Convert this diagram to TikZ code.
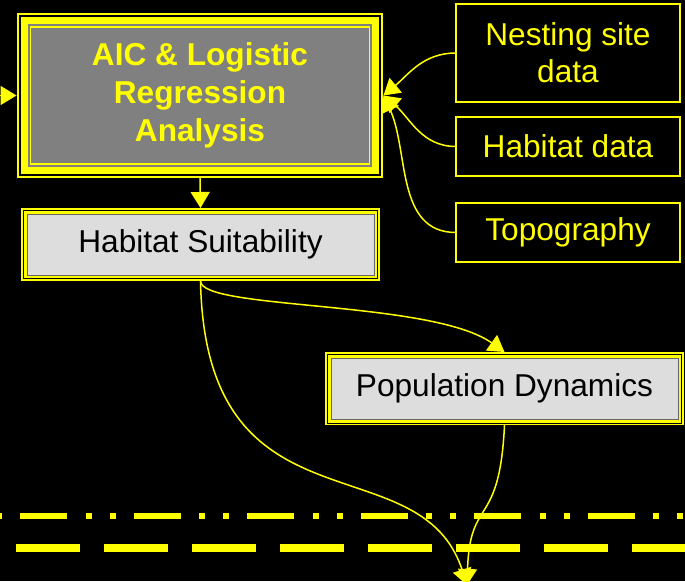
\documentclass[tikz,border=0pt]{standalone}
\usepackage{fontspec}
\setmainfont{Liberation Sans}
\usetikzlibrary{arrows.meta}
\definecolor{ppyellow}{HTML}{FFFF00}
\definecolor{ppgray}{HTML}{808080}
\definecolor{pplight}{HTML}{DDDDDD}
\tikzset{bigbox/.style={rectangle, inner sep=0pt, align=center, minimum width=6.78cm, minimum height=2.74cm, outer sep=0.28cm,
    preaction={draw=ppyellow, line width=0.56cm},
    preaction={draw=black, line width=0.48cm},
    preaction={draw=ppyellow, line width=0.4cm},
    preaction={draw=ppgray, line width=0.12cm},
    fill=ppgray, draw=ppyellow, line width=0.03cm, text=ppyellow,
    font=\bfseries\fontsize{18}{21.8}\selectfont}}
\tikzset{midbox/.style={rectangle, inner sep=0pt, minimum width=6.94cm, minimum height=1.22cm, outer sep=0.12cm,
    preaction={draw=ppyellow, line width=0.24cm},
    preaction={draw=black, line width=0.18cm},
    preaction={draw=ppyellow, line width=0.14cm},
    fill=pplight, draw=black!60, line width=0.015cm, text=black,
    font=\fontsize{18}{21}\selectfont}}
\tikzset{databox/.style={rectangle, inner sep=0pt, align=center, minimum width=4.48cm, outer sep=0pt,
    fill=black, draw=ppyellow, line width=0.045cm, text=ppyellow,
    font=\fontsize{18}{21}\selectfont}}
\tikzset{link/.style={draw=ppyellow, line width=0.03cm, -{Triangle[length=0.32cm,width=0.38cm]}}}

\begin{document}
\begin{tikzpicture}[x=0.02cm, y=0.02cm]
	\useasboundingbox (0,0) rectangle (685,-581);
	\fill[black] (0,0) rectangle (685,-581);
	\clip (0,0) rectangle (685,-581);

	% boxes
	\node[bigbox] (aic) at (200,-95.5) {AIC \& Logistic\\Regression\\Analysis};
	\node[midbox] (hs) at (200.5,-244.5) {Habitat Suitability};
	\node[midbox] (pd) at (504.5,-388.5) {Population Dynamics};
	\node[databox, minimum height=1.96cm] (nest) at (568,-53) {Nesting site\\data};
	\node[databox, minimum height=1.18cm] (hab) at (568,-146.5) {Habitat data};
	\node[databox, minimum height=1.18cm] (topo) at (568,-232.5) {Topography};

	\coordinate (src) at (-20,-95.5);
	\coordinate (sink) at (467,-585);

	% separator lines
	\draw[ppyellow, line width=0.12cm, dash pattern=on 0.94cm off 0.37cm on 0.12cm off 0.36cm on 0.12cm off 0.36cm] (-93,-516) -- (720,-516);
	\draw[ppyellow, line width=0.15cm, dash pattern=on 1.28cm off 0.48cm] (16,-548) -- (720,-548);

	% links
	\draw[link] (src) -- (aic.west);
	\draw[link] (aic.south) -- (hs.north);
	\draw[link] (nest.west) to[out=180, in=40] (aic.east);
	\draw[link] (hab.west) to[out=180, in=-40] (aic.east);
	\draw[link] (topo.west) to[out=180, in=-65] (aic.east);
	\draw[link] (hs.south) .. controls +(0,-29) and +(-73,52) .. (pd.north);
	\draw[link] (hs.south) .. controls +(5,-259) and +(-47,145) .. (sink);
	\draw[link] (pd.south) .. controls +(-5,-105) and +(3,90) .. (sink);
\end{tikzpicture}
\end{document}
